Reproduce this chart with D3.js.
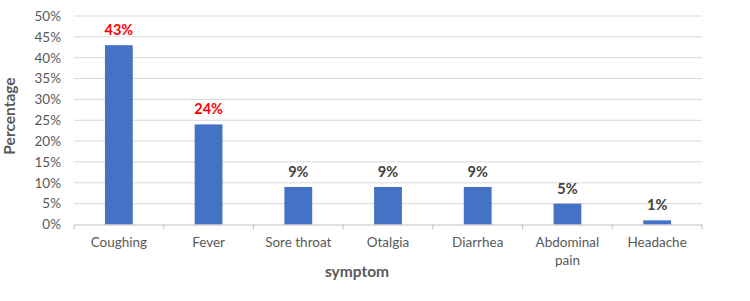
<!DOCTYPE html>
<html><head><meta charset="utf-8">
<script src="https://cdn.jsdelivr.net/npm/d3@7"></script>
<style>body{margin:0;background:#fff;}svg{display:block;font-family:Lato,"Open Sans",sans-serif;}</style>
</head><body><svg id="c" width="750" height="301"></svg>
<script>
const categories = ["Coughing","Fever","Sore throat","Otalgia","Diarrhea","Abdominal pain","Headache"];
const values = [43,24,9,9,9,5,1];
const highlighted = [true,true,false,false,false,false,false];
const yTicks = [0,5,10,15,20,25,30,35,40,45,50];

(function(){
const svg = d3.select("#c");
const mLeft=74, mRight=702, mTop=16, mBottom=224.5;
const x = d3.scaleBand().domain(categories).range([mLeft,mRight]).paddingInner(0.69).paddingOuter(0.345);
const xb = d3.scaleBand().domain(categories).range([mLeft,mRight]);
const y = d3.scaleLinear().domain([0,50]).range([mBottom,mTop]);

// gridlines
svg.append("g").selectAll("line").data(yTicks.filter(d=>d>0)).join("line")
  .attr("x1",mLeft).attr("x2",mRight).attr("y1",d=>y(d)).attr("y2",d=>y(d))
  .attr("stroke","#d9d9d9").attr("stroke-width",1);

// y axis labels
const yAxis = d3.axisLeft(y).tickValues(yTicks).tickFormat(d=>d+"%").tickSize(0).tickPadding(0);
const gy = svg.append("g").attr("transform",`translate(${mLeft-13},0)`).call(yAxis);
gy.select(".domain").remove();
gy.selectAll("text").attr("fill","#595959").style("font-size","13.5px").style("font-family","Lato,'Open Sans',sans-serif");

// bars
svg.append("g").selectAll("rect").data(values).join("rect")
  .attr("x",(d,i)=>x(categories[i])).attr("width",x.bandwidth())
  .attr("y",d=>y(d)).attr("height",d=>mBottom-y(d)).attr("fill","#4472c4");

// x axis
const xAxis = d3.axisBottom(xb).tickSize(0).tickFormat("");
const gx = svg.append("g").attr("transform",`translate(0,${mBottom})`).call(xAxis);
gx.select(".domain").attr("stroke","#bfbfbf");
const tickPos = categories.map(c=>xb(c)).concat([mRight]);
svg.append("g").selectAll("line").data(tickPos).join("line")
  .attr("x1",d=>d).attr("x2",d=>d).attr("y1",mBottom).attr("y2",mBottom+5)
  .attr("stroke","#bfbfbf");

// category labels
const cl = svg.append("g").selectAll("text").data(categories).join("text")
  .attr("x",d=>xb(d)+xb.bandwidth()/2).attr("y",247)
  .attr("text-anchor","middle").attr("fill","#595959").style("font-size","13.5px");
cl.each(function(d){
  const words = d==="Abdominal pain" ? ["Abdominal","pain"] : [d];
  const t=d3.select(this);
  words.forEach((w,k)=>t.append("tspan").attr("x",xb(d)+xb.bandwidth()/2).attr("dy",k?18:0).text(w));
});

// data labels
svg.append("g").selectAll("text").data(values).join("text")
  .attr("x",(d,i)=>xb(categories[i])+xb.bandwidth()/2).attr("y",d=>y(d)-10)
  .attr("text-anchor","middle").attr("font-weight","bold").style("font-size","14.5px")
  .attr("fill",(d,i)=>highlighted[i]?"#ff0000":"#404040").text(d=>d+"%");

// axis titles
svg.append("text").attr("transform","translate(15,116) rotate(-90)").attr("text-anchor","middle")
  .attr("font-weight","bold").attr("fill","#595959").style("font-size","15.5px").text("Percentage");
svg.append("text").attr("x",357).attr("y",277).attr("text-anchor","middle")
  .attr("font-weight","bold").attr("fill","#595959").style("font-size","15.5px").text("symptom");
})();
</script></body></html>
